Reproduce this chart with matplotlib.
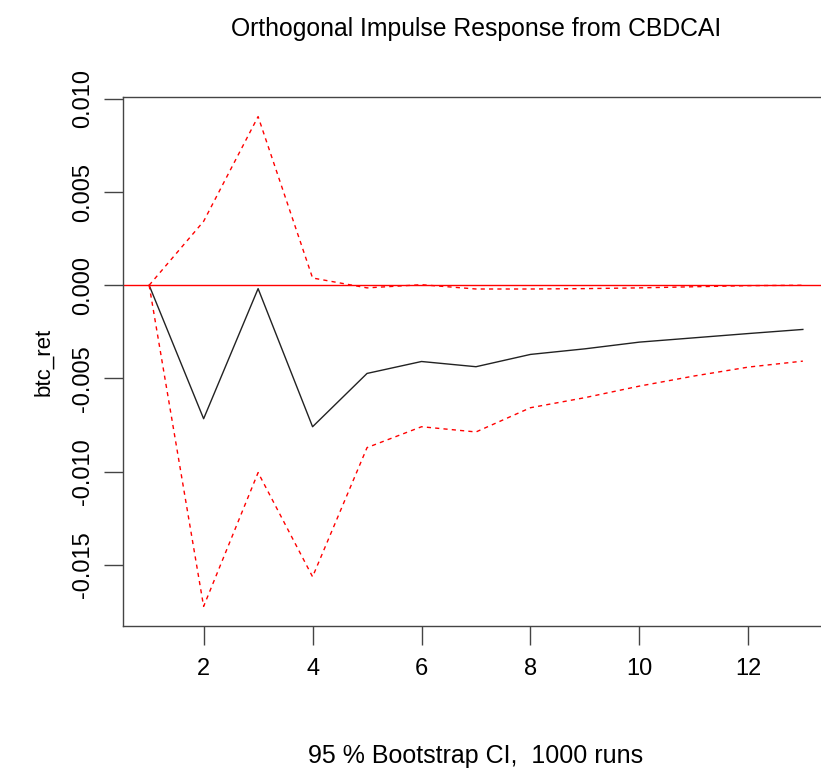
import numpy as np
import matplotlib
matplotlib.use("Agg")
import matplotlib.pyplot as plt

plt.rcParams['font.family'] = ['Liberation Sans', 'DejaVu Sans']

# impulse response horizon
steps = list(range(1, 14))

# orthogonal impulse response of btc_ret to CBDCAI
irf = [0.0, -0.00716, -0.00018, -0.00759, -0.00473, -0.00409, -0.00437,
       -0.00371, -0.00341, -0.00305, -0.00282, -0.00259, -0.00237]

# 95% bootstrap bands
lower = [0.0, -0.01723, -0.01005, -0.01564, -0.00871, -0.00759, -0.00787,
         -0.00657, -0.00603, -0.00541, -0.00487, -0.00439, -0.00407]
upper = [0.0, 0.00343, 0.00905, 0.00039, -0.00014, 0.00003, -0.00020,
         -0.00020, -0.00018, -0.00014, -0.00008, -0.00002, 0.0]

yticks = [-0.015, -0.010, -0.005, 0.000, 0.005, 0.010]
xticks = [2, 4, 6, 8, 10, 12]

fig = plt.figure(figsize=(8.21, 7.7), dpi=100)
ax = fig.add_axes([123 / 821, 144 / 770, 706 / 821, 529 / 770])

ax.plot(steps, irf, color='#222222', lw=1.0)
ax.plot(steps, lower, color='red', lw=1.0, ls=(0, (3, 3)))
ax.plot(steps, upper, color='red', lw=1.0, ls=(0, (3, 3)))
ax.axhline(0, color='red', lw=1.0)

# R style 4% padding
allv = np.array(irf + lower + upper)
lo, hi = allv.min(), allv.max()
pad = 0.04 * (hi - lo)
ax.set_ylim(lo - pad, hi + pad)
ax.set_xlim(1 - 0.04 * 12, 13 + 0.04 * 12)

ax.set_xticks(xticks)
ax.set_xticklabels([str(t) for t in xticks])
ax.set_yticks(yticks)
ax.set_yticklabels([f"{t:.3f}" for t in yticks], rotation=90, va='center')

ax.tick_params(axis='both', length=14, width=1, color='#444444',
               labelsize=17, pad=9)
ax.tick_params(axis='y', pad=7)
for s in ax.spines.values():
    s.set_color('#444444')
    s.set_linewidth(1)

ax.set_title('Orthogonal Impulse Response from CBDCAI', fontsize=17.8, pad=44)
ax.set_ylabel('btc_ret', fontsize=16, labelpad=13)
ax.set_xlabel('95 % Bootstrap CI,  1000 runs', fontsize=18, labelpad=46)

fig.savefig('out.png', dpi=100)
